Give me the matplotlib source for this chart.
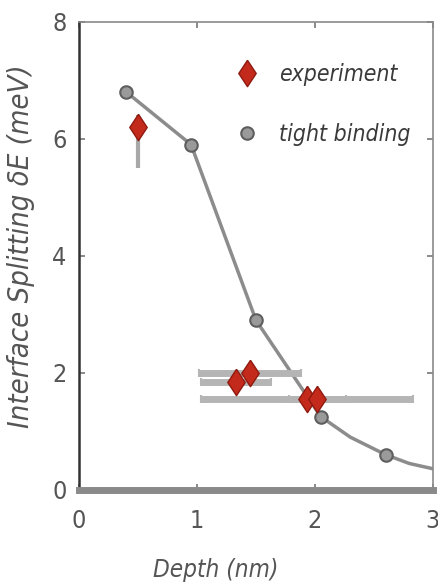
import numpy as np
import matplotlib
matplotlib.use("Agg")
from matplotlib import pyplot as plt

# tight binding calculation
tb_depth = [0.4, 0.95, 1.5, 2.05, 2.6]
tb_split = [6.8, 5.9, 2.9, 1.25, 0.6]
# smooth guide through the calculation, running out to the axis edge
fit_depth = [0.4, 0.95, 1.5, 2.05, 2.3, 2.6, 2.8, 3.0]
fit_split = [6.8, 5.9, 2.9, 1.25, 0.9, 0.6, 0.45, 0.36]

# measured splittings
exp_depth = [0.5, 1.33, 1.45, 1.93, 2.02]
exp_split = [6.2, 1.85, 2.0, 1.55, 1.55]
exp_xerr = [0.0, 0.3, 0.43, 0.9, 0.24]
exp_yerr_lo = [0.7, 0.1, 0.1, 0.1, 0.1]
exp_yerr_hi = [0.2, 0.1, 0.1, 0.1, 0.1]

txt = '#555555'
plt.rcParams['font.family'] = ['DejaVu Sans']
plt.rcParams['font.stretch'] = 'condensed'

# upright diamond
diamond = [(0, 1), (0.66, 0), (0, -1), (-0.66, 0), (0, 1)]

fig = plt.figure(figsize=(4.39, 5.88), dpi=100)
ax = fig.add_axes([0.18, 0.167, 0.806, 0.796])

ax.plot(fit_depth, fit_split, '-', color='#8c8c8c', lw=2.5, zorder=2)
ax.plot(tb_depth, tb_split, 'o', ms=9, mfc='#9a9a9a', mec='#5e5e5e', mew=1.5,
        zorder=3, label='tight binding')

# first point only has a vertical bar, the rest mostly depth uncertainty
ax.errorbar(exp_depth[:1], exp_split[:1],
            yerr=[exp_yerr_lo[:1], exp_yerr_hi[:1]],
            fmt='none', ecolor='#a8a8a8', elinewidth=3, capsize=0, zorder=4)
ax.errorbar(exp_depth[1:], exp_split[1:], xerr=exp_xerr[1:],
            yerr=[exp_yerr_lo[1:], exp_yerr_hi[1:]],
            fmt='none', ecolor='#b5b5b5', elinewidth=5, capsize=3, capthick=1.5,
            zorder=4)
ax.plot(exp_depth, exp_split, marker=diamond, ls='none', ms=19, mfc='#c42a1c',
        mec='#8e1a10', mew=1, zorder=5, label='experiment')

ax.set_xlim(0, 3)
ax.set_ylim(0, 8)
ax.set_xticks([0, 1, 2, 3])
ax.set_yticks([0, 2, 4, 6, 8])
ax.tick_params(direction='in', length=4, width=1.2, colors='#777777',
               labelcolor=txt, labelsize=18, top=True, right=True)
ax.tick_params(axis='x', pad=14)
ax.tick_params(axis='y', pad=9)

for side in ['top', 'right']:
    ax.spines[side].set_color('#8a8a8a')
    ax.spines[side].set_linewidth(1.2)
ax.spines['left'].set_color('#333333')
ax.spines['left'].set_linewidth(1.8)
ax.spines['bottom'].set_color('#8a8a8a')
ax.spines['bottom'].set_linewidth(5)

ax.set_xlabel('Depth (nm)', fontsize=17.5, style='italic', color=txt)
ax.xaxis.set_label_coords(0.385, -0.145)
ax.set_ylabel('Interface Splitting δE (meV)', fontsize=21, style='italic',
              color=txt)
ax.yaxis.set_label_coords(-0.125, 0.52)

handles, labels = ax.get_legend_handles_labels()
leg = ax.legend(handles[::-1], labels[::-1], loc='upper right',
                bbox_to_anchor=(0.995, 0.955), frameon=False,
                handletextpad=0.8, labelspacing=1.6, numpoints=1,
                handlelength=1.2, prop={'style': 'italic', 'size': 16.5})
for t in leg.get_texts():
    t.set_color('#3a3a3a')

fig.savefig('out.png', dpi=100)
